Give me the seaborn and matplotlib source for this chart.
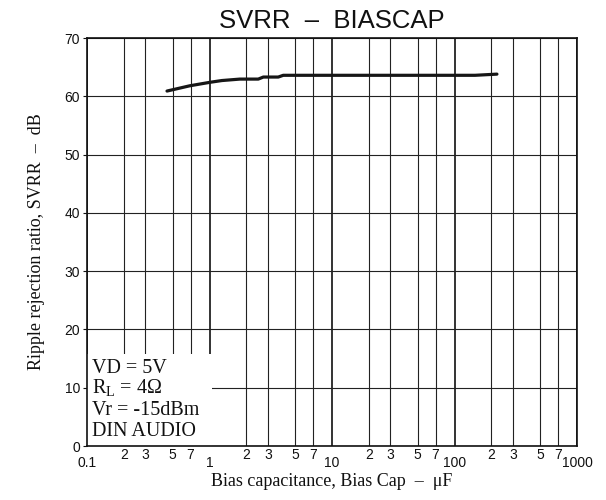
import numpy as np
import pandas as pd
import matplotlib
matplotlib.use("Agg")
import matplotlib.pyplot as plt
from matplotlib.patches import Rectangle
import seaborn as sns

# values
bias_cap_uF = [0.45, 0.69, 1.01, 1.26, 1.77, 2.5, 2.75, 3.64, 4.0, 10, 50, 147, 222]
svrr_dB = [60.9, 61.8, 62.4, 62.7, 62.95, 62.95, 63.3, 63.3, 63.6, 63.6, 63.6, 63.6, 63.8]

decade_ticks = [0.1, 1, 10, 100, 1000]
decade_labels = ["0.1", "1", "10", "100", "1000"]
minor_steps = [2, 3, 5, 7]
y_ticks = [0, 10, 20, 30, 40, 50, 60, 70]

conditions = ["VD = 5V", r"R$_\mathregular{L}$ = 4Ω", "Vr = -15dBm", "DIN AUDIO"]

sns.set_style("white")
plt.rcParams["font.family"] = ["Liberation Sans", "DejaVu Sans"]
plt.rcParams["mathtext.fontset"] = "custom"
plt.rcParams["mathtext.rm"] = "Liberation Serif"
serif = ["Liberation Serif", "DejaVu Serif"]

fig = plt.figure(figsize=(6.06, 5.0), dpi=100)
ax = fig.add_axes([87 / 606, 1 - 446 / 500, 490 / 606, 408 / 500])

df = pd.DataFrame({"cap": bias_cap_uF, "svrr": svrr_dB})
sns.lineplot(data=df, x="cap", y="svrr", ax=ax, color="#161616", linewidth=2.3,
             zorder=3)

ax.set_xscale("log")
ax.set_xlim(0.1, 1000)
ax.set_ylim(0, 70)

minor = [m * d for d in decade_ticks[:-1] for m in minor_steps]
ax.set_xticks(decade_ticks)
ax.set_xticklabels(decade_labels)
ax.set_xticks(minor, minor=True)
ax.set_xticklabels([str(m) for d in decade_ticks[:-1] for m in minor_steps], minor=True)
ax.tick_params(axis="x", which="major", length=0, pad=7, labelsize=10, colors="#111111")
ax.tick_params(axis="x", which="minor", length=0, pad=1.5, labelsize=10, colors="#111111")

ax.set_yticks(y_ticks)
ax.tick_params(axis="y", length=3, width=0.8, pad=2, labelsize=10, colors="#111111", left=True)

ax.set_axisbelow(True)
ax.grid(True, axis="x", which="major", color="#111111", linewidth=1.2)
ax.grid(True, axis="x", which="minor", color="#222222", linewidth=0.8)
ax.grid(True, axis="y", which="major", color="#222222", linewidth=0.8)

for s in ax.spines.values():
    s.set_color("#111111")
    s.set_linewidth(1.2)
    s.set_zorder(4)

# condition box hides the grid underneath
ax.add_patch(Rectangle((0.1, 0), 1.048 - 0.1, 15.8, facecolor="white",
                       edgecolor="none", zorder=1.5))
for i, line in enumerate(conditions):
    ax.text(0.11, 12.5 - i * 3.6, line, fontsize=14.5, family=serif,
            color="#111111", va="baseline", ha="left", zorder=5)

ax.set_title("SVRR  \u2013  BIASCAP", fontsize=18.5, pad=7, color="#111111")
ax.set_xlabel("Bias capacitance, Bias Cap  \u2013  \u03bcF", family=serif,
              fontsize=13, labelpad=2, color="#111111")
ax.set_ylabel("Ripple rejection ratio, SVRR  \u2013  dB", family=serif,
              fontsize=13, labelpad=14, color="#111111")

fig.savefig("out.png", dpi=100)
